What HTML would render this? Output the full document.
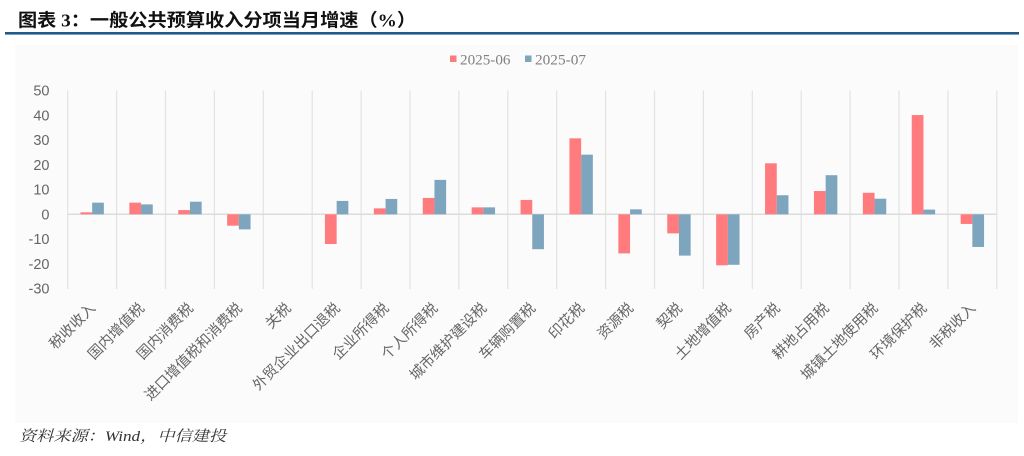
<!DOCTYPE html>
<html><head><meta charset="utf-8"><style>
html,body{margin:0;padding:0;background:#fff;}
svg{display:block;}
</style></head><body>
<svg width="1024" height="456" viewBox="0 0 1024 456" xmlns="http://www.w3.org/2000/svg">
<rect x="0" y="0" width="1024" height="456" fill="#ffffff"/>
<text x="18" y="26.5" font-family="'Liberation Serif','Noto Sans CJK SC',sans-serif" font-weight="bold" font-size="18" fill="#111" textLength="398" lengthAdjust="spacingAndGlyphs">图表 3：一般公共预算收入分项当月增速（%）</text>
<rect x="5" y="32" width="1014" height="2.6" fill="#1f5a8a"/>
<rect x="15" y="45" width="1003" height="378" fill="#fbfbfb"/>

<!-- legend -->
<rect x="450" y="55.5" width="6.5" height="6.5" fill="#ff7b7d"/>
<text x="460" y="64.5" font-family="'Liberation Serif',serif" font-size="15" fill="#808080" textLength="50.5" lengthAdjust="spacingAndGlyphs">2025-06</text>
<rect x="525" y="55.5" width="6.5" height="6.5" fill="#7ea5be"/>
<text x="535" y="64.5" font-family="'Liberation Serif',serif" font-size="15" fill="#808080" textLength="51" lengthAdjust="spacingAndGlyphs">2025-07</text>

<!-- vertical gridlines -->
<g stroke="#e3e3e3" stroke-width="1.2">
<line x1="67.7" y1="90.5" x2="67.7" y2="289"/>
<line x1="116.6" y1="90.5" x2="116.6" y2="289"/>
<line x1="165.5" y1="90.5" x2="165.5" y2="289"/>
<line x1="214.4" y1="90.5" x2="214.4" y2="289"/>
<line x1="263.3" y1="90.5" x2="263.3" y2="289"/>
<line x1="312.2" y1="90.5" x2="312.2" y2="289"/>
<line x1="361.1" y1="90.5" x2="361.1" y2="289"/>
<line x1="410.0" y1="90.5" x2="410.0" y2="289"/>
<line x1="458.9" y1="90.5" x2="458.9" y2="289"/>
<line x1="507.8" y1="90.5" x2="507.8" y2="289"/>
<line x1="556.7" y1="90.5" x2="556.7" y2="289"/>
<line x1="605.6" y1="90.5" x2="605.6" y2="289"/>
<line x1="654.5" y1="90.5" x2="654.5" y2="289"/>
<line x1="703.4" y1="90.5" x2="703.4" y2="289"/>
<line x1="752.3" y1="90.5" x2="752.3" y2="289"/>
<line x1="801.2" y1="90.5" x2="801.2" y2="289"/>
<line x1="850.1" y1="90.5" x2="850.1" y2="289"/>
<line x1="899.0" y1="90.5" x2="899.0" y2="289"/>
<line x1="947.9" y1="90.5" x2="947.9" y2="289"/>
<line x1="996.8" y1="90.5" x2="996.8" y2="289"/>
</g>
<line x1="67.7" y1="214.3" x2="996.8" y2="214.3" stroke="#dcdcdc" stroke-width="1.5"/>

<!-- y labels -->
<g font-family="'Liberation Sans',sans-serif" font-size="14.5" fill="#666" text-anchor="end">
<text x="49.5" y="95.7">50</text>
<text x="49.5" y="120.4">40</text>
<text x="49.5" y="145.2">30</text>
<text x="49.5" y="169.9">20</text>
<text x="49.5" y="194.7">10</text>
<text x="49.5" y="219.4">0</text>
<text x="49.5" y="244.2">-10</text>
<text x="49.5" y="268.9">-20</text>
<text x="49.5" y="293.7">-30</text>
</g>

<!-- red bars -->
<g fill="#ff7b7d">
<rect x="80.45" y="212.32" width="11.7" height="1.98"/>
<rect x="129.35" y="202.67" width="11.7" height="11.63"/>
<rect x="178.25" y="210.09" width="11.7" height="4.21"/>
<rect x="227.15" y="214.3" width="11.7" height="11.39"/>
<rect x="324.95" y="214.3" width="11.7" height="29.7"/>
<rect x="373.85" y="208.36" width="11.7" height="5.94"/>
<rect x="422.75" y="197.96" width="11.7" height="16.34"/>
<rect x="471.65" y="207.37" width="11.7" height="6.93"/>
<rect x="520.55" y="199.94" width="11.7" height="14.36"/>
<rect x="569.45" y="138.32" width="11.7" height="75.98"/>
<rect x="618.35" y="214.3" width="11.7" height="39.1"/>
<rect x="667.25" y="214.3" width="11.7" height="19.06"/>
<rect x="716.15" y="214.3" width="11.7" height="50.99"/>
<rect x="765.05" y="163.31" width="11.7" height="50.99"/>
<rect x="813.95" y="191.03" width="11.7" height="23.27"/>
<rect x="862.85" y="192.77" width="11.7" height="21.53"/>
<rect x="911.75" y="115.05" width="11.7" height="99.25"/>
<rect x="960.65" y="214.3" width="11.7" height="9.65"/>
</g>
<!-- blue bars -->
<g fill="#7ea5be">
<rect x="92.15" y="202.67" width="11.7" height="11.63"/>
<rect x="141.05" y="204.4" width="11.7" height="9.9"/>
<rect x="189.95" y="201.68" width="11.7" height="12.62"/>
<rect x="238.85" y="214.3" width="11.7" height="15.1"/>
<rect x="336.65" y="200.93" width="11.7" height="13.37"/>
<rect x="385.55" y="198.95" width="11.7" height="15.35"/>
<rect x="434.45" y="179.9" width="11.7" height="34.4"/>
<rect x="483.35" y="207.37" width="11.7" height="6.93"/>
<rect x="532.25" y="214.3" width="11.7" height="34.9"/>
<rect x="581.15" y="154.65" width="11.7" height="59.65"/>
<rect x="630.05" y="209.35" width="11.7" height="4.95"/>
<rect x="678.95" y="214.3" width="11.7" height="41.33"/>
<rect x="727.85" y="214.3" width="11.7" height="50.49"/>
<rect x="776.75" y="195.24" width="11.7" height="19.06"/>
<rect x="825.65" y="175.2" width="11.7" height="39.1"/>
<rect x="874.55" y="198.71" width="11.7" height="15.59"/>
<rect x="923.45" y="209.6" width="11.7" height="4.7"/>
<rect x="972.35" y="214.3" width="11.7" height="32.67"/>
</g>

<!-- x labels -->
<g font-family="'Liberation Sans','Noto Sans CJK SC',sans-serif" font-size="14.5" fill="#666" text-anchor="end">
<text transform="translate(96.2,309) rotate(-45)">税收收入</text>
<text transform="translate(145.1,309) rotate(-45)">国内增值税</text>
<text transform="translate(194.0,309) rotate(-45)">国内消费税</text>
<text transform="translate(242.9,309) rotate(-45)">进口增值税和消费税</text>
<text transform="translate(291.8,309) rotate(-45)">关税</text>
<text transform="translate(340.7,309) rotate(-45)">外贸企业出口退税</text>
<text transform="translate(389.6,309) rotate(-45)">企业所得税</text>
<text transform="translate(438.5,309) rotate(-45)">个人所得税</text>
<text transform="translate(487.4,309) rotate(-45)">城市维护建设税</text>
<text transform="translate(536.3,309) rotate(-45)">车辆购置税</text>
<text transform="translate(585.2,309) rotate(-45)">印花税</text>
<text transform="translate(634.1,309) rotate(-45)">资源税</text>
<text transform="translate(683.0,309) rotate(-45)">契税</text>
<text transform="translate(731.9,309) rotate(-45)">土地增值税</text>
<text transform="translate(780.8,309) rotate(-45)">房产税</text>
<text transform="translate(829.7,309) rotate(-45)">耕地占用税</text>
<text transform="translate(878.6,309) rotate(-45)">城镇土地使用税</text>
<text transform="translate(927.5,309) rotate(-45)">环境保护税</text>
<text transform="translate(976.4,309) rotate(-45)">非税收入</text>
</g>

<text x="19" y="441" font-family="'Liberation Serif','Noto Serif CJK SC',serif" font-style="italic" font-size="15" fill="#333" textLength="207" lengthAdjust="spacingAndGlyphs">资料来源：Wind，中信建投</text>
</svg>
</body></html>
